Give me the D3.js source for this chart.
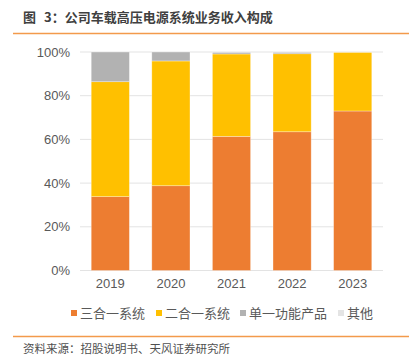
<!DOCTYPE html>
<html><head><meta charset="utf-8">
<script src="https://cdn.jsdelivr.net/npm/d3@7"></script>
<style>body{margin:0;background:#fff;}svg{display:block;font-family:"Noto Sans CJK SC","Noto Sans",sans-serif;}</style>
</head><body>
<script>
const years = ["2019","2020","2021","2022","2023"];
const seriesNames = ["三合一系统","二合一系统","单一功能产品","其他"];
const threeInOne = [33.8, 38.8, 61.4, 63.5, 73.0];
const twoInOne   = [52.6, 57.1, 37.7, 35.7, 26.9];
const single     = [13.6, 4.1, 0.8, 0.7, 0.0];
const other      = [0.0, 0.0, 0.1, 0.1, 0.1];
const yTicks = [0, 20, 40, 60, 80, 100];
const colors = ["#ED7D31","#FFC000","#B2B2B2","#E4E4E4"];

const W = 409, H = 358;
const svg = d3.select("body").append("svg").attr("width", W).attr("height", H);

const title = svg.append("text").attr("x", 23).attr("y", 22).attr("font-size", 13).attr("font-weight", "bold")
  .attr("fill", "#404040");
title.append("tspan").text("图");
title.append("tspan").attr("dx", 8).text("3：");
title.append("tspan").text("公司车载高压电源系统业务收入构成");
svg.append("line").attr("x1", 13).attr("x2", 409).attr("y1", 33.5).attr("y2", 33.5)
  .attr("stroke", "#F39A4B").attr("stroke-width", 1.3);

const x = d3.scaleBand().domain(years).range([80, 383]).paddingInner(0.37).paddingOuter(0.185);
const y = d3.scaleLinear().domain([0, 100]).range([270.5, 52]);

const g = svg.append("g");
g.selectAll("line.grid").data(yTicks).enter().append("line")
  .attr("x1", 80).attr("x2", 383).attr("y1", d => y(d)).attr("y2", d => y(d))
  .attr("stroke", "#E3E3E3").attr("stroke-width", 1);

const rows = years.map((yr, i) => ({year: yr, s0: threeInOne[i], s1: twoInOne[i], s2: single[i], s3: other[i]}));
const stack = d3.stack().keys(["s0","s1","s2","s3"])(rows);
stack.forEach((layer, li) => {
  g.selectAll(null).data(layer).enter().append("rect")
    .attr("x", d => x(d.data.year)).attr("width", x.bandwidth())
    .attr("y", d => y(d[1])).attr("height", d => Math.max(0, y(d[0]) - y(d[1])))
    .attr("fill", colors[li]).attr("stroke", "#fff").attr("stroke-opacity", 0.45).attr("stroke-width", 0.7);
});

const yAxis = d3.axisLeft(y).tickValues(yTicks).tickFormat(d => d + "%").tickSize(0).tickPadding(0);
const ya = svg.append("g").attr("transform", "translate(70,0)").call(yAxis);
ya.select(".domain").remove();
ya.selectAll("text").attr("font-size", 13).attr("fill", "#595959").attr("font-family", "Liberation Sans, Arial, sans-serif");

const xAxis = d3.axisBottom(x).tickSize(0).tickPadding(0);
const xa = svg.append("g").attr("transform", "translate(0,279)").call(xAxis);
xa.select(".domain").remove();
xa.selectAll("text").attr("font-size", 13).attr("fill", "#595959").attr("font-family", "Liberation Sans, Arial, sans-serif");

const legendX = [71, 156, 240, 338];
const lg = svg.append("g");
seriesNames.forEach((n, i) => {
  lg.append("rect").attr("x", legendX[i]).attr("y", 310).attr("width", 6).attr("height", 6).attr("fill", colors[i]);
  lg.append("text").attr("x", legendX[i] + 9).attr("y", 318).attr("font-size", 13).attr("fill", "#595959").text(n);
});

svg.append("line").attr("x1", 13).attr("x2", 409).attr("y1", 336.5).attr("y2", 336.5)
  .attr("stroke", "#F39A4B").attr("stroke-width", 1.3);
svg.append("text").attr("x", 23).attr("y", 353).attr("font-size", 11.5).attr("fill", "#505050")
  .text("资料来源：招股说明书、天风证券研究所");
</script>
</body></html>
